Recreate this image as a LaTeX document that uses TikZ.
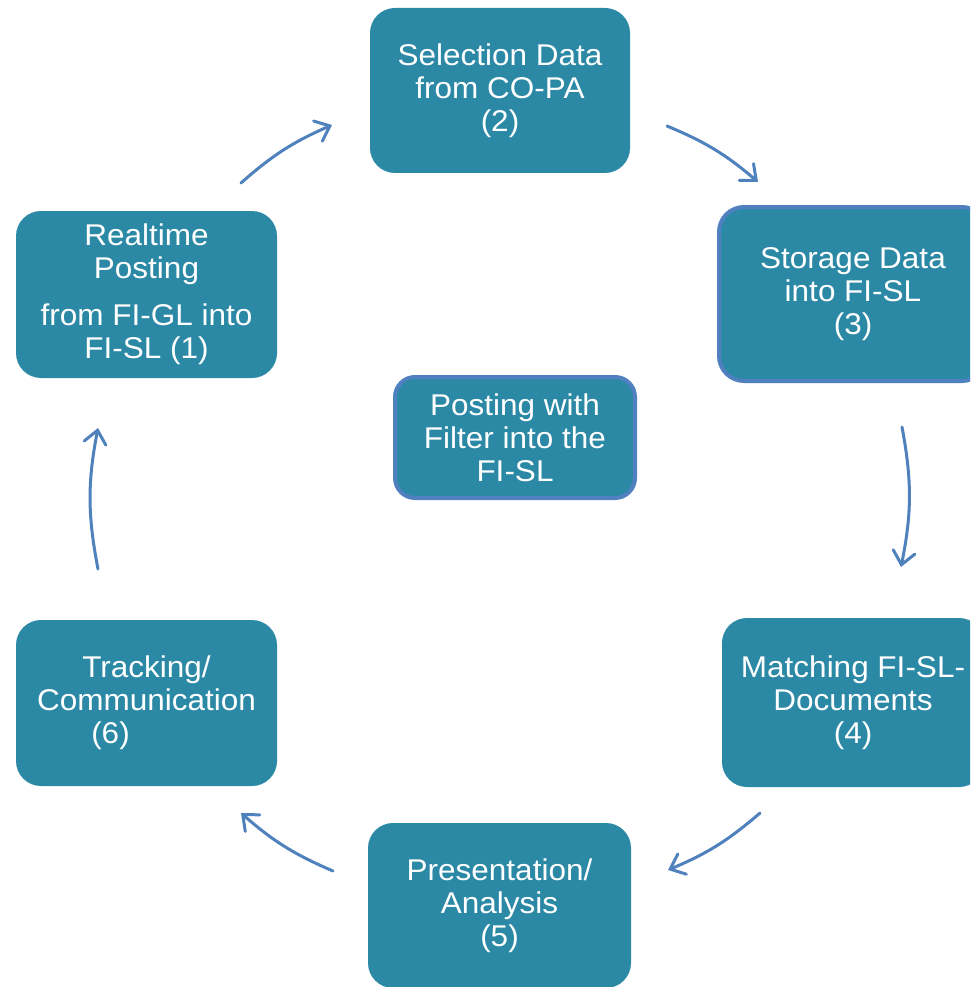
\documentclass[tikz,border=0pt]{standalone}
\usepackage{fontspec}
\setmainfont[FakeStretch=1.05]{Liberation Sans}
\usetikzlibrary{arrows.meta}
\definecolor{boxfill}{RGB}{43,137,166}
\definecolor{boxline}{RGB}{80,128,192}
\definecolor{arrowcol}{RGB}{79,129,189}
\tikzset{
  stage/.style={rectangle, rounded corners=25pt, fill=boxfill, draw=none,
    text=white, align=center, inner sep=0pt,
    font=\fontsize{30}{33}\selectfont},
  stageframed/.style={stage, draw=boxline, line width=4pt},
  flow/.style={draw=arrowcol, line width=3pt, line cap=round,
    -{Straight Barb[length=13pt,width=22pt,line cap=round]}},
}
\begin{document}
\begin{tikzpicture}[x=1pt,y=-1pt]
\useasboundingbox (0,0) rectangle (970,987);
\clip (0,0) rectangle (970,987);
\node[stage, minimum width=260pt, minimum height=165pt] (s2) at (500,90.5)
  {Selection Data\\from CO-PA\\(2)};
\node[stageframed, minimum width=268pt, minimum height=174pt] (s3) at (853,294)
  {Storage Data\\into FI-SL\\(3)};
\node[stage, minimum width=261pt, minimum height=167pt] (s1) at (146.5,294.5)
  {Realtime\\Posting\\[14pt]from FI-GL into\\FI-SL (1)};
\node[stageframed, minimum width=240pt, minimum height=121pt, rounded corners=20pt] (c) at (515,437.5)
  {Posting with\\Filter into the\\FI-SL};
\node[stage, minimum width=262pt, minimum height=169pt] (s4) at (853,702.5)
  {Matching FI-SL-\\Documents\\(4)};
\node[stage, minimum width=263pt, minimum height=165pt] (s5) at (499.5,905.5)
  {Presentation/\\Analysis\\(5)};
\node[stage, minimum width=261pt, minimum height=166pt] (s6) at (146.5,703)
  {Tracking/\\Communication\\\hspace*{-72pt}(6)};
\coordinate (a1s) at (241,183); \coordinate (a1e) at (332,125);
\coordinate (a2s) at (667,126); \coordinate (a2e) at (758,182);
\coordinate (a3s) at (902,427); \coordinate (a3e) at (901,567);
\coordinate (a4s) at (760,813); \coordinate (a4e) at (668,870);
\coordinate (a5s) at (333,871); \coordinate (a5e) at (241,813);
\coordinate (a6s) at (98,569);  \coordinate (a6e) at (98,428);
\draw[flow] (a1s) to[bend left=9] (a1e);
\draw[flow] (a2s) to[bend left=9] (a2e);
\draw[flow] (a3s) to[bend left=11] (a3e);
\draw[flow] (a4s) to[bend left=9] (a4e);
\draw[flow] (a5s) to[bend left=9] (a5e);
\draw[flow] (a6s) to[bend left=11] (a6e);
\end{tikzpicture}
\end{document}
